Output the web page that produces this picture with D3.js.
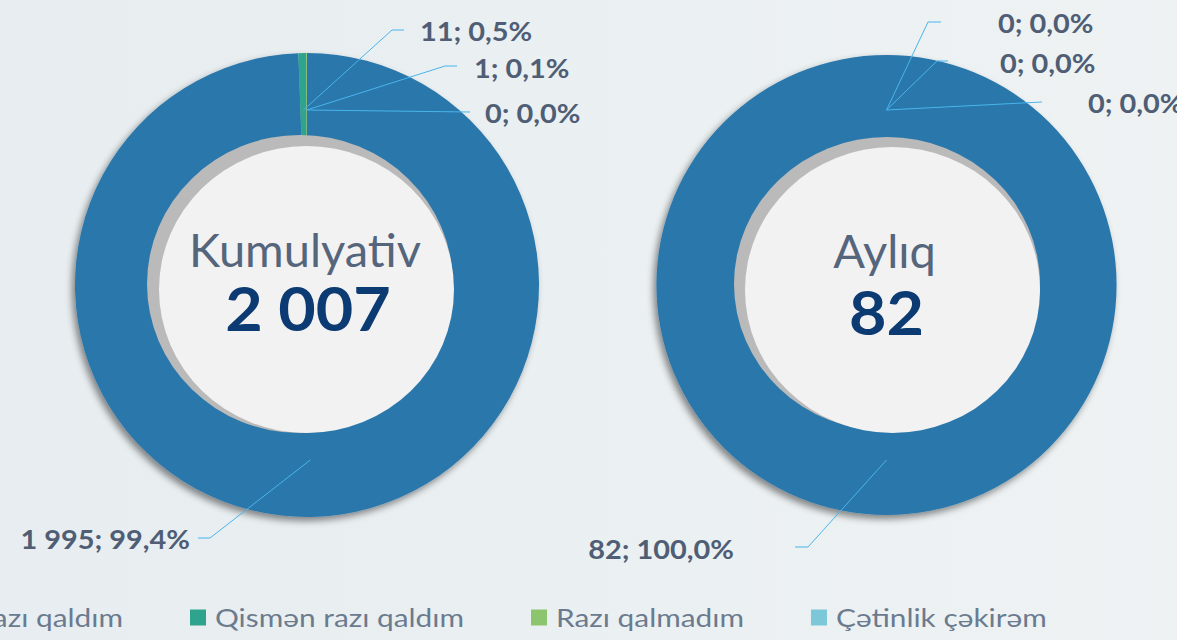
<!DOCTYPE html>
<html>
<head>
<meta charset="utf-8">
<script src="https://cdn.jsdelivr.net/npm/d3@7"></script>
<style>
  html, body { margin: 0; padding: 0; }
  body { width: 1177px; height: 640px; overflow: hidden; }
  svg { display: block; }
</style>
</head>
<body>
<svg id="chart" width="1177" height="640"></svg>
<script>
// Survey answers
const categories = ["Tam razı qaldım", "Qismən razı qaldım", "Razı qalmadım", "Çətinlik çəkirəm"];
const cumulativeValues = [1995, 11, 1, 0];
const cumulativePct = ["99,4%", "0,5%", "0,1%", "0,0%"];
const monthlyValues = [82, 0, 0, 0];
const monthlyPct = ["100,0%", "0,0%", "0,0%", "0,0%"];
const chartTitles = ["Kumulyativ", "Aylıq"];
const chartTotals = ["2 007", "82"];

const colors = ["#2b77ab", "#2ea48e", "#8dc56f", "#7cc8d8"];
const fmtNum = d3.formatLocale({ thousands: " ", grouping: [3], decimal: ",", currency: ["", ""] }).format(",d");

const W = 1177, H = 640;
const svg = d3.select("#chart");

// widen a text run horizontally by factor k
function stretch(sel, k) {
  sel.each(function () {
    const n = this.getComputedTextLength();
    d3.select(this).attr("textLength", n * k).attr("lengthAdjust", "spacingAndGlyphs");
  });
  return sel;
}

// background
const defs = svg.append("defs");
const bg = defs.append("linearGradient").attr("id", "bg").attr("x1", 0).attr("x2", 1).attr("y1", 0).attr("y2", 0);
bg.append("stop").attr("offset", 0).attr("stop-color", "#e7edf0");
bg.append("stop").attr("offset", 1).attr("stop-color", "#eef2f3");
svg.append("rect").attr("width", W).attr("height", H).attr("fill", "url(#bg)");

const shadow = defs.append("filter").attr("id", "ringShadow")
  .attr("x", "-20%").attr("y", "-20%").attr("width", "140%").attr("height", "140%");
shadow.append("feDropShadow").attr("dx", -3).attr("dy", 4).attr("stdDeviation", 3.5)
  .attr("flood-color", "#000").attr("flood-opacity", 0.45);

// layout of the two donuts (hole = grey recess + light disc on top)
const charts = [
  {
    values: cumulativeValues, pct: cumulativePct, title: chartTitles[0], total: chartTotals[0],
    cx: 307, cy: 285, r: 232,
    grey: { dx: -7, dy: -1, rx: 153, ry: 149 },
    disc: { dx: -0.5, dy: 4.5, rx: 147.5, ry: 143.5 },
    titleY: 267, totalY: 331, titleX: -2, totalX: 1,
    labels: [
      { elbow: [-97, 253], end: [-109, 253], text: [-117, 264], anchor: "end" },
      { elbow: [85, -255], end: [97, -255], text: [113, -244.3], anchor: "start" },
      { elbow: [138, -219], end: [150, -219], text: [167, -207], anchor: "start" },
      { elbow: [163, -173], end: [163, -173], text: [178, -162.3], anchor: "start" }
    ]
  },
  {
    values: monthlyValues, pct: monthlyPct, title: chartTitles[1], total: chartTotals[1],
    cx: 886.5, cy: 285, r: 230,
    grey: { dx: 0.5, dy: -1, rx: 153, ry: 147 },
    disc: { dx: 6, dy: 5, rx: 147.5, ry: 143 },
    titleY: 268, totalY: 335, titleX: -2, totalX: 0,
    labels: [
      { elbow: [-78.5, 262], end: [-91.5, 262], text: [-152.5, 274], anchor: "end" },
      { elbow: [41.5, -263], end: [54.5, -263], text: [111.5, -252], anchor: "start" },
      { elbow: [50.5, -224], end: [61.5, -224], text: [113.5, -212], anchor: "start" },
      { elbow: [155.5, -183], end: [155.5, -183], text: [201.5, -172], anchor: "start" }
    ]
  }
];

const pie = d3.pie().sort(null).value(d => d).startAngle(0).endAngle(2 * Math.PI);
const FONT = "Lato, 'Open Sans', sans-serif";

charts.forEach(c => {
  const g = svg.append("g").attr("transform", `translate(${c.cx},${c.cy})`);
  const arcs = pie(c.values);
  const arc = d3.arc().innerRadius(c.r * 0.6).outerRadius(c.r);
  const anchorArc = d3.arc().innerRadius(175).outerRadius(175);

  // ring
  const ring = g.append("g").attr("filter", "url(#ringShadow)");
  ring.selectAll("path").data(arcs).join("path")
    .attr("d", arc)
    .attr("fill", (d, i) => colors[i]);

  // hole
  g.append("ellipse")
    .attr("cx", c.grey.dx).attr("cy", c.grey.dy)
    .attr("rx", c.grey.rx).attr("ry", c.grey.ry)
    .attr("fill", "#bababa");
  g.append("ellipse")
    .attr("cx", c.disc.dx).attr("cy", c.disc.dy)
    .attr("rx", c.disc.rx).attr("ry", c.disc.ry)
    .attr("fill", "#f2f2f2");

  // centre texts
  g.append("text")
    .attr("x", c.titleX).attr("y", c.titleY - c.cy)
    .attr("text-anchor", "middle")
    .attr("font-family", FONT).attr("font-size", 47)
    .attr("fill", "#55657b")
    .text(c.title);
  g.append("text")
    .attr("x", c.totalX).attr("y", c.totalY - c.cy)
    .attr("text-anchor", "middle")
    .attr("font-family", FONT).attr("font-weight", 700).attr("font-size", 61)
    .attr("fill", "#0c3a72")
    .text(c.total)
    .call(stretch, 1.06);

  // leader lines and data labels
  arcs.forEach((d, i) => {
    const L = c.labels[i];
    const p0 = anchorArc.centroid(d);
    g.append("polyline")
      .attr("points", [p0, L.elbow, L.end].map(p => p.join(",")).join(" "))
      .attr("fill", "none")
      .attr("stroke", "#47b6ec")
      .attr("stroke-width", 1);
    g.append("text")
      .attr("x", L.text[0]).attr("y", L.text[1])
      .attr("text-anchor", L.anchor)
      .attr("font-family", FONT).attr("font-weight", 700).attr("font-size", 26.5)
      .attr("fill", "#4f5e75")
      .text(`${fmtNum(d.data)}; ${c.pct[i]}`)
      .call(stretch, 1.09);
  });
});

// legend
const legend = svg.append("g").attr("font-family", FONT).attr("font-size", 25.5).attr("fill", "#6b7b8f");
const legendY = 618, sw = 16, swGap = 9, itemGap = 67, legendK = 1.17;
const items = legend.selectAll("g").data(categories).join("g");
items.append("rect").attr("width", sw).attr("height", sw).attr("y", legendY - sw / 2 - 0.5)
  .attr("fill", (d, i) => colors[i]);
const labels = items.append("text").attr("x", sw + swGap).attr("y", legendY + 9).text(d => d);
const widths = [];
labels.each(function () {
  const n = this.getComputedTextLength() * legendK;
  d3.select(this).attr("textLength", n).attr("lengthAdjust", "spacingAndGlyphs");
  widths.push(sw + swGap + n);
});
const xs = [];
xs[1] = 190;
xs[0] = xs[1] - itemGap - widths[0];
for (let i = 2; i < categories.length; i++) xs[i] = xs[i - 1] + widths[i - 1] + itemGap;
items.attr("transform", (d, i) => `translate(${xs[i]},0)`);
</script>
</body>
</html>
